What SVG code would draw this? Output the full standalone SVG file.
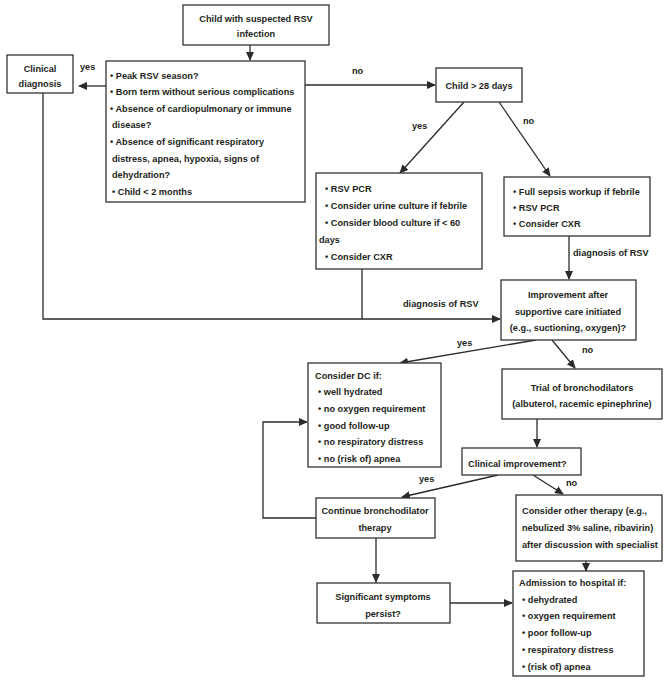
<svg xmlns="http://www.w3.org/2000/svg" width="667" height="685" viewBox="0 0 667 685">
<defs>
<style>
.box{fill:#fff;stroke:#333;stroke-width:1.3}
text{font-family:"Liberation Sans",Arial,sans-serif;font-weight:bold;font-size:9.2px;fill:#231f20}
.c{text-anchor:middle}
.ln{fill:none;stroke:#2b2b2b;stroke-width:1.3}
</style>
<marker id="ah" markerUnits="userSpaceOnUse" markerWidth="9" markerHeight="8" refX="8" refY="4" orient="auto">
<path d="M0,0 L9,4 L0,8 z" fill="#2b2b2b"/>
</marker>
</defs>
<rect width="667" height="685" fill="#fff"/>

<g id="connectors">
<line class="ln" x1="250" y1="45" x2="250" y2="60" marker-end="url(#ah)"/>
<line class="ln" x1="106" y1="86" x2="79" y2="86" marker-end="url(#ah)"/>
<text x="80" y="70">yes</text>
<line class="ln" x1="305" y1="85" x2="435" y2="85" marker-end="url(#ah)"/>
<text x="352" y="74">no</text>
<line class="ln" x1="464" y1="102" x2="400" y2="173" marker-end="url(#ah)"/>
<text x="412" y="129">yes</text>
<line class="ln" x1="499" y1="102" x2="550" y2="176" marker-end="url(#ah)"/>
<text x="523" y="124">no</text>
<line class="ln" x1="569" y1="236" x2="569" y2="279" marker-end="url(#ah)"/>
<text x="573" y="256">diagnosis of RSV</text>
<polyline class="ln" points="43,93 43,319 500,319" marker-end="url(#ah)"/>
<line class="ln" x1="362" y1="269" x2="362" y2="319"/>
<text x="403" y="307">diagnosis of RSV</text>
<line class="ln" x1="536" y1="340" x2="400" y2="363" marker-end="url(#ah)"/>
<text x="457" y="346">yes</text>
<line class="ln" x1="552" y1="340" x2="575" y2="368" marker-end="url(#ah)"/>
<text x="582" y="353">no</text>
<line class="ln" x1="537" y1="419" x2="537" y2="447" marker-end="url(#ah)"/>
<line class="ln" x1="498" y1="475" x2="402" y2="497" marker-end="url(#ah)"/>
<text x="419" y="482">yes</text>
<line class="ln" x1="533" y1="475" x2="563" y2="494" marker-end="url(#ah)"/>
<text x="566" y="486">no</text>
<polyline class="ln" points="316,518 263,518 263,422 307,422" marker-end="url(#ah)"/>
<line class="ln" x1="376" y1="538" x2="376" y2="582" marker-end="url(#ah)"/>
<line class="ln" x1="586" y1="561" x2="586" y2="571" marker-end="url(#ah)"/>
<line class="ln" x1="450" y1="603" x2="512" y2="603" marker-end="url(#ah)"/>
</g>

<g id="n-start">
<rect class="box" x="183" y="5" width="146" height="40"/>
<text class="c" x="256" y="21.5">Child with suspected RSV</text>
<text class="c" x="256" y="37">infection</text>
</g>

<g id="n-clinical">
<rect class="box" x="7" y="55" width="66" height="38"/>
<text class="c" x="40" y="71.5">Clinical</text>
<text class="c" x="40" y="87">diagnosis</text>
</g>

<g id="n-question">
<rect class="box" x="106" y="61" width="199" height="141"/>
<text x="110" y="78.5">• Peak RSV season?</text>
<text x="110" y="95">• Born term without serious complications</text>
<text x="110" y="111.5">• Absence of cardiopulmonary or immune</text>
<text x="112" y="128">disease?</text>
<text x="110" y="144.5">• Absence of significant respiratory</text>
<text x="112" y="161.5">distress, apnea, hypoxia, signs of</text>
<text x="112" y="177.5">dehydration?</text>
<text x="112" y="194.5">• Child &lt; 2 months</text>
</g>

<g id="n-age">
<rect class="box" x="436" y="68" width="86" height="34"/>
<text class="c" x="479" y="89">Child &gt; 28 days</text>
</g>

<g id="n-older">
<rect class="box" x="316" y="173" width="166" height="96"/>
<text x="325" y="191.5">• RSV PCR</text>
<text x="325" y="209">• Consider urine culture if febrile</text>
<text x="325" y="225.5">• Consider blood culture if &lt; 60</text>
<text x="319" y="242.5">days</text>
<text x="325" y="259.5">• Consider CXR</text>
</g>

<g id="n-younger">
<rect class="box" x="504" y="177" width="146" height="59"/>
<text x="513" y="194.5">• Full sepsis workup if febrile</text>
<text x="513" y="210.5">• RSV PCR</text>
<text x="513" y="226.5">• Consider CXR</text>
</g>

<g id="n-improve">
<rect class="box" x="501" y="280" width="135" height="60"/>
<text class="c" x="568" y="297.5">Improvement after</text>
<text class="c" x="568" y="314.5">supportive care initiated</text>
<text class="c" x="568" y="330.5">(e.g., suctioning, oxygen)?</text>
</g>

<g id="n-dc">
<rect class="box" x="308" y="363" width="133" height="104"/>
<text x="315" y="378.5">Consider DC if:</text>
<text x="318" y="394.5">• well hydrated</text>
<text x="318" y="411.5">• no oxygen requirement</text>
<text x="318" y="428.5">• good follow-up</text>
<text x="318" y="444.5">• no respiratory distress</text>
<text x="318" y="461.5">• no (risk of) apnea</text>
</g>

<g id="n-trial">
<rect class="box" x="502" y="369" width="160" height="50"/>
<text class="c" x="582" y="390.5">Trial of bronchodilators</text>
<text class="c" x="582" y="406.5">(albuterol, racemic epinephrine)</text>
</g>

<g id="n-clinimp">
<rect class="box" x="462" y="448" width="119" height="27"/>
<text x="468" y="466.5">Clinical improvement?</text>
</g>

<g id="n-continue">
<rect class="box" x="316" y="498" width="119" height="40"/>
<text class="c" x="375" y="513.5">Continue bronchodilator</text>
<text class="c" x="375" y="530.5">therapy</text>
</g>

<g id="n-other">
<rect class="box" x="516" y="495" width="146" height="66"/>
<text x="522" y="513.5">Consider other therapy (e.g.,</text>
<text x="522" y="530.5">nebulized 3% saline, ribavirin)</text>
<text x="522" y="547.5">after discussion with specialist</text>
</g>

<g id="n-persist">
<rect class="box" x="317" y="583" width="133" height="40"/>
<text class="c" x="383" y="599.5">Significant symptoms</text>
<text class="c" x="383" y="616.5">persist?</text>
</g>

<g id="n-admit">
<rect class="box" x="513" y="571" width="131" height="105"/>
<text x="519" y="585.5">Admission to hospital if:</text>
<text x="522" y="602.5">• dehydrated</text>
<text x="522" y="618.5">• oxygen requirement</text>
<text x="522" y="635.5">• poor follow-up</text>
<text x="522" y="652.5">• respiratory distress</text>
<text x="522" y="669.5">• (risk of) apnea</text>
</g>
</svg>
